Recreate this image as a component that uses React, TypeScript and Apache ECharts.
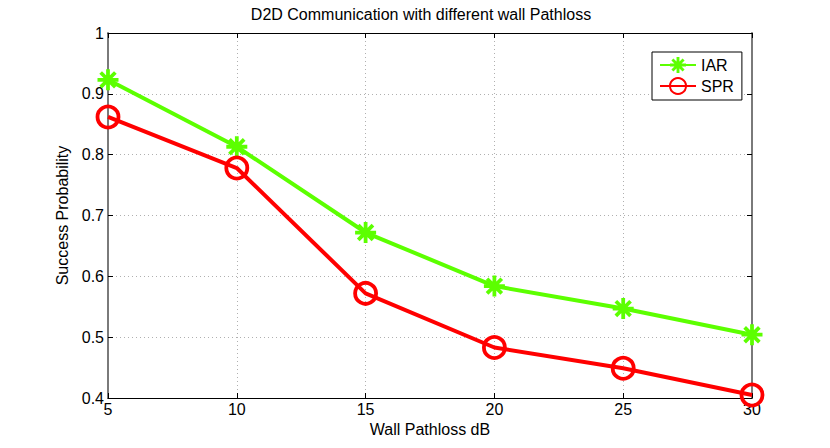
import React, { useEffect, useRef } from "react";
import * as echarts from "echarts";

const pathlossDb = [5, 10, 15, 20, 25, 30];
const iarValues = [0.923, 0.813, 0.672, 0.584, 0.547, 0.504];
const sprValues = [0.862, 0.778, 0.572, 0.483, 0.449, 0.405];
const xTicks = [5, 10, 15, 20, 25, 30];
const yTicks = [0.4, 0.5, 0.6, 0.7, 0.8, 0.9, 1];

const GREEN = "#5cff00";
const RED = "#ff0000";
const FONT = "Liberation Sans, Arial, Helvetica, sans-serif";

// MATLAB-like asterisk marker (+ and x overlaid), drawn as filled bars
const STAR =
  "path://M0,8.2L20,8.2L20,11.8L0,11.8Z" +
  "M8.2,0L11.8,0L11.8,20L8.2,20Z" +
  "M4.27,1.73L18.27,15.73L15.73,18.27L1.73,4.27Z" +
  "M18.27,4.27L4.27,18.27L1.73,15.73L15.73,1.73Z";

export default function App() {
  const ref = useRef<HTMLDivElement>(null);

  useEffect(() => {
    if (!ref.current) return;
    const chart = echarts.init(ref.current, undefined, { renderer: "svg" });
    const xMin = xTicks[0];
    const xMax = xTicks[xTicks.length - 1];
    const xInt = xTicks[1] - xTicks[0];
    const yMin = yTicks[0];
    const yMax = yTicks[yTicks.length - 1];
    const yInt = 0.1;

    chart.setOption({
      animation: false,
      backgroundColor: "#ffffff",
      textStyle: { fontFamily: FONT },
      title: {
        text: "D2D Communication with different wall Pathloss",
        left: 416,
        top: 1,
        textAlign: "center",
        textStyle: { fontFamily: FONT, fontSize: 16, fontWeight: "normal", color: "#000" },
      },
      legend: {
        orient: "vertical",
        left: 652,
        top: 52,
        padding: [5, 8, 5, 7],
        itemWidth: 36,
        itemHeight: 20,
        itemGap: 4,
        backgroundColor: "#ffffff",
        borderColor: "#000",
        borderWidth: 1,
        textStyle: { fontFamily: FONT, fontSize: 16, color: "#000" },
        data: ["IAR", "SPR"],
      },
      grid: { left: 108, top: 33, right: 78, bottom: 50, containLabel: false },
      xAxis: [
        {
          type: "value",
          min: xMin,
          max: xMax,
          interval: xInt,
          name: "Wall Pathloss dB",
          nameLocation: "middle",
          nameGap: 19,
          nameTextStyle: { fontFamily: FONT, fontSize: 16, color: "#000" },
          axisLine: { show: true, lineStyle: { color: "#000", width: 1 } },
          axisTick: { show: true, inside: true, length: 5, lineStyle: { color: "#000" } },
          axisLabel: { fontFamily: FONT, fontSize: 16, color: "#000", margin: 3 },
          splitLine: { show: true, lineStyle: { color: "#b0b0b0", type: [1, 3], width: 1 } },
        },
        {
          type: "value",
          position: "top",
          min: xMin,
          max: xMax,
          interval: xInt,
          axisLine: { show: true, lineStyle: { color: "#000", width: 1 } },
          axisTick: { show: true, inside: true, length: 5, lineStyle: { color: "#000" } },
          axisLabel: { show: false },
          splitLine: { show: false },
        },
      ],
      yAxis: [
        {
          type: "value",
          min: yMin,
          max: yMax,
          interval: yInt,
          name: "Success Probability",
          nameLocation: "middle",
          nameGap: 34,
          nameTextStyle: { fontFamily: FONT, fontSize: 16, color: "#000" },
          axisLine: { show: true, lineStyle: { color: "#7a7a7a", width: 2 } },
          axisTick: { show: true, inside: true, length: 5, lineStyle: { color: "#000" } },
          axisLabel: {
            fontFamily: FONT,
            fontSize: 16,
            color: "#000",
            margin: 4,
            formatter: (v: number) => String(Math.round(v * 10) / 10),
          },
          splitLine: { show: true, lineStyle: { color: "#b0b0b0", type: [1, 3], width: 1 } },
        },
        {
          type: "value",
          position: "right",
          min: yMin,
          max: yMax,
          interval: yInt,
          axisLine: { show: true, lineStyle: { color: "#7a7a7a", width: 2 } },
          axisTick: { show: true, inside: true, length: 5, lineStyle: { color: "#000" } },
          axisLabel: { show: false },
          splitLine: { show: false },
        },
      ],
      series: [
        {
          name: "IAR",
          type: "line",
          xAxisIndex: 0,
          yAxisIndex: 0,
          data: pathlossDb.map((x, i) => [x, iarValues[i]]),
          symbol: STAR,
          symbolSize: 21,
          showAllSymbol: true,
          lineStyle: { color: GREEN, width: 4 },
          itemStyle: { color: GREEN, borderWidth: 0 },
          clip: false,
          z: 3,
        },
        {
          name: "SPR",
          type: "line",
          xAxisIndex: 0,
          yAxisIndex: 0,
          data: pathlossDb.map((x, i) => [x, sprValues[i]]),
          symbol: "circle",
          symbolSize: 21,
          showAllSymbol: true,
          lineStyle: { color: RED, width: 4 },
          itemStyle: { color: "rgba(255,255,255,0)", borderColor: RED, borderWidth: 3.8 },
          clip: false,
          z: 4,
        },
      ],
    });
    return () => chart.dispose();
  }, []);

  return (
    <div
      ref={ref}
      style={{ position: "fixed", left: 0, top: 0, width: 830, height: 448 }}
    />
  );
}
